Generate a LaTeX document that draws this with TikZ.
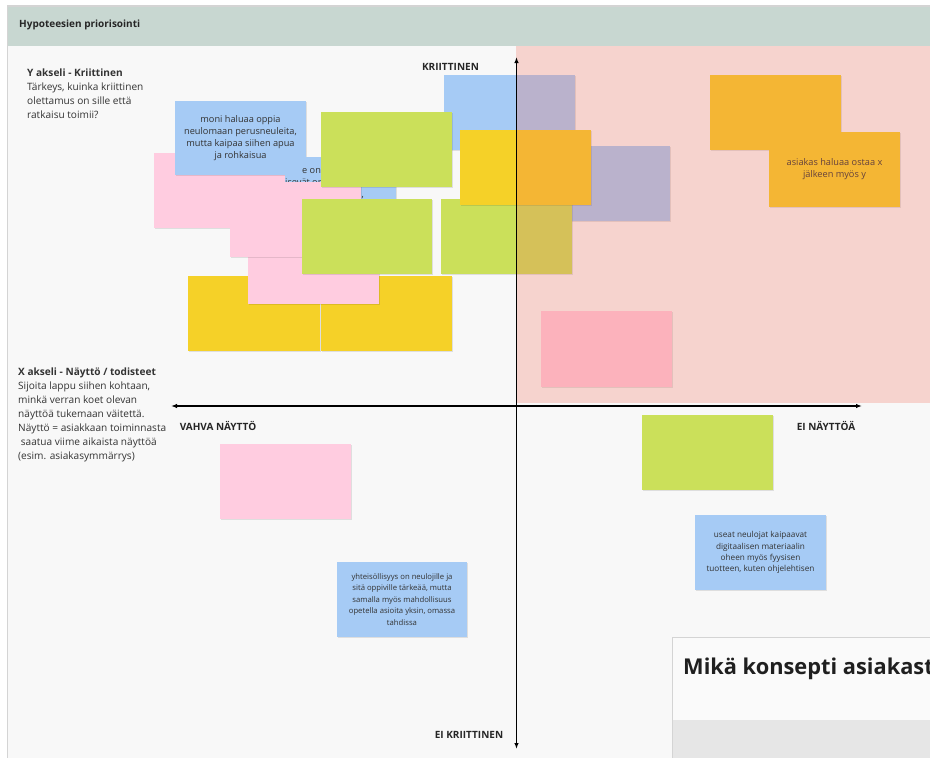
\documentclass[tikz,border=0pt]{standalone}
\usepackage{fontspec}
\setmainfont{Open Sans}
\usetikzlibrary{arrows.meta,shadows}

\definecolor{frameline}{HTML}{D4D4D4}
\definecolor{headbar}{HTML}{C8D7D1}
\definecolor{board}{HTML}{F8F8F8}
\definecolor{ink}{HTML}{333333}
\definecolor{sblue}{HTML}{A6CBF5}
\definecolor{spink}{HTML}{FFCCE0}
\definecolor{syellow}{HTML}{F5D128}
\definecolor{sgreen}{HTML}{CBE05A}
\definecolor{hotzone}{RGB}{244,107,88}
\definecolor{cardface}{HTML}{FAFAFA}
\definecolor{cardfoot}{HTML}{E6E6E6}

\newcommand\stickyfont{\fontsize{9.2}{12}\selectfont}
\newcommand\smallsticky{\fontsize{8.2}{11.2}\selectfont}
\newcommand\guidefont{\fontsize{10.1}{14}\selectfont}
\newcommand\axisfont{\fontsize{10}{11}\selectfont\bfseries}

\tikzset{
  sticky/.style={rectangle, inner sep=0pt, minimum width=131pt, minimum height=75pt,
    align=center, text=ink, font=\stickyfont,
    general shadow={fill=black, opacity=0.10, shadow xshift=0.6pt, shadow yshift=-1.3pt}},
  axisline/.style={line width=1.4pt, black,
    {Latex[length=6pt,width=4.5pt]}-{Latex[length=6pt,width=4.5pt]}},
  axislabel/.style={inner sep=0pt, text=black!85, font=\axisfont},
  guide/.style={anchor=base west, inner sep=0pt, text=ink, font=\guidefont},
  fragment/.style={anchor=base west, inner sep=0pt, text=ink, font=\stickyfont},
}

\begin{document}
\begin{tikzpicture}[x=1pt,y=-1pt]
\useasboundingbox (0,0) rectangle (930,758);
\fill[white] (0,0) rectangle (930,758);

% board frame and title bar
\fill[board] (8,46) rectangle (930,758);
\fill[headbar] (8,6) rectangle (930,46);
\draw[frameline, line width=1.2pt] (930,6) -- (7.6,6) -- (7.6,758);
\node[anchor=base west, inner sep=0pt, font=\fontsize{10}{11}\selectfont\bfseries, text=black!85]
  (boardtitle) at (19,27.5) {Hypoteesien priorisointi};

% axis explanations
\foreach \txt [count=\i] in {{\bfseries Y akseli - Kriittinen},
    {Tärkeys, kuinka kriittinen},{olettamus on sille että},{ratkaisu toimii?}}
  \node[guide] (ya\i) at (27,{76+14.2*(\i-1)}) {\txt};
\foreach \txt [count=\i] in {{\bfseries X akseli - Näyttö / todisteet},
    {Sijoita lappu siihen kohtaan,},{minkä verran koet olevan},
    {näyttöä tukemaan väitettä.},{Näyttö = asiakkaan toiminnasta},
    {\ saatua viime aikaista näyttöä},{(esim. asiakasymmärrys)}}
  \node[guide] (xa\i) at (18,{375+14*(\i-1)}) {\txt};

% sticky notes, back to front
\node[sticky, fill=syellow, minimum width=132pt] (y1) at (254,313.5) {};
\node[sticky, fill=syellow] (y2) at (386.5,313.5) {};
\node[sticky, fill=spink] (p3) at (313.5,266.5) {};
\node[sticky, fill=spink] (p1) at (219.5,190.5) {};
\node[sticky, fill=sblue, minimum height=74pt] (moni) at (240.5,138)
  {moni haluaa oppia\\neulomaan perusneuleita,\\mutta kaipaa siihen apua\\ja rohkaisua};
\node[sticky, fill=sblue, minimum width=111pt, minimum height=74pt] (hidden) at (340.5,194) {};
\node[fragment] (hid1) at (302,173) {e on};
\node[fragment] (hid2) at (285,185.5) {isevät om};
\node[fragment] (hid3) at (361.5,197.5) {,};
\node[sticky, fill=spink] (p2) at (295.5,219.5) {};
\node[sticky, fill=sblue] (btop) at (509.5,112.5) {};
\node[sticky, fill=sgreen] (g1) at (386.5,149.5) {};
\node[sticky, fill=sgreen, minimum width=130pt] (g2) at (367,236.5) {};
\node[sticky, fill=sblue] (bright) at (604.5,183.5) {};
\node[sticky, fill=sgreen] (g3) at (506.5,236.5) {};
\node[sticky, fill=syellow] (yc) at (525.5,167.5) {};
\node[sticky, fill=syellow] (o1) at (775.5,112.5) {};
\node[sticky, fill=syellow] (o2) at (834.5,169.5) {asiakas haluaa ostaa x\\jälkeen myös y};
\node[sticky, fill=spink, minimum height=76pt] (pr) at (606.5,349) {};
\node[sticky, fill=sgreen] (glow) at (707.5,452.5) {};
\node[sticky, fill=sblue, font=\smallsticky] (useat) at (760.5,552.5)
  {useat neulojat kaipaavat\\digitaalisen materiaalin\\oheen myös fyysisen\\tuotteen, kuten ohjelehtisen};
\node[sticky, fill=sblue, minimum width=130pt, font=\fontsize{7.7}{11.5}\selectfont] (yht) at (402,599.5)
  {yhteisöllisyys on neulojille ja\\sitä oppiville tärkeää, mutta\\samalla myös mahdollisuus\\opetella asioita yksin, omassa\\tahdissa};
\node[sticky, fill=spink] (pll) at (285.5,481.5) {};

% critical quadrant tint laid over the notes
\fill[hotzone, opacity=0.26] (516,46) rectangle (930,403);

% axes
\coordinate (ytop) at (516.5,57);
\coordinate (ybot) at (516.5,749);
\coordinate (xleft) at (171,406);
\coordinate (xright) at (862,406);
\draw[axisline] (ybot) -- (ytop);
\draw[axisline] (xleft) -- (xright);
\node[axislabel] (lblcrit) at (450.5,67) {KRIITTINEN};
\node[axislabel] (lblnoncrit) at (469,735) {EI KRIITTINEN};
\node[axislabel] (lblstrong) at (218,425.5) {VAHVA NÄYTTÖ};
\node[axislabel] (lblnone) at (826,425.5) {EI NÄYTTÖÄ};

% next frame peeking in at the corner
\begin{scope}
  \clip (0,0) rectangle (930,758);
  \fill[cardface] (672,637) rectangle (940,720);
  \fill[cardfoot] (672,720) rectangle (940,760);
  \draw[frameline, line width=0.8pt] (672,760) -- (672,637) -- (940,637);
  \node[anchor=base west, inner sep=0pt, text=black!88,
    font=\fontsize{21.8}{24}\selectfont\bfseries] (cardtitle) at (683,674)
    {Mikä konsepti asiakaste};
\end{scope}
\end{tikzpicture}
\end{document}
